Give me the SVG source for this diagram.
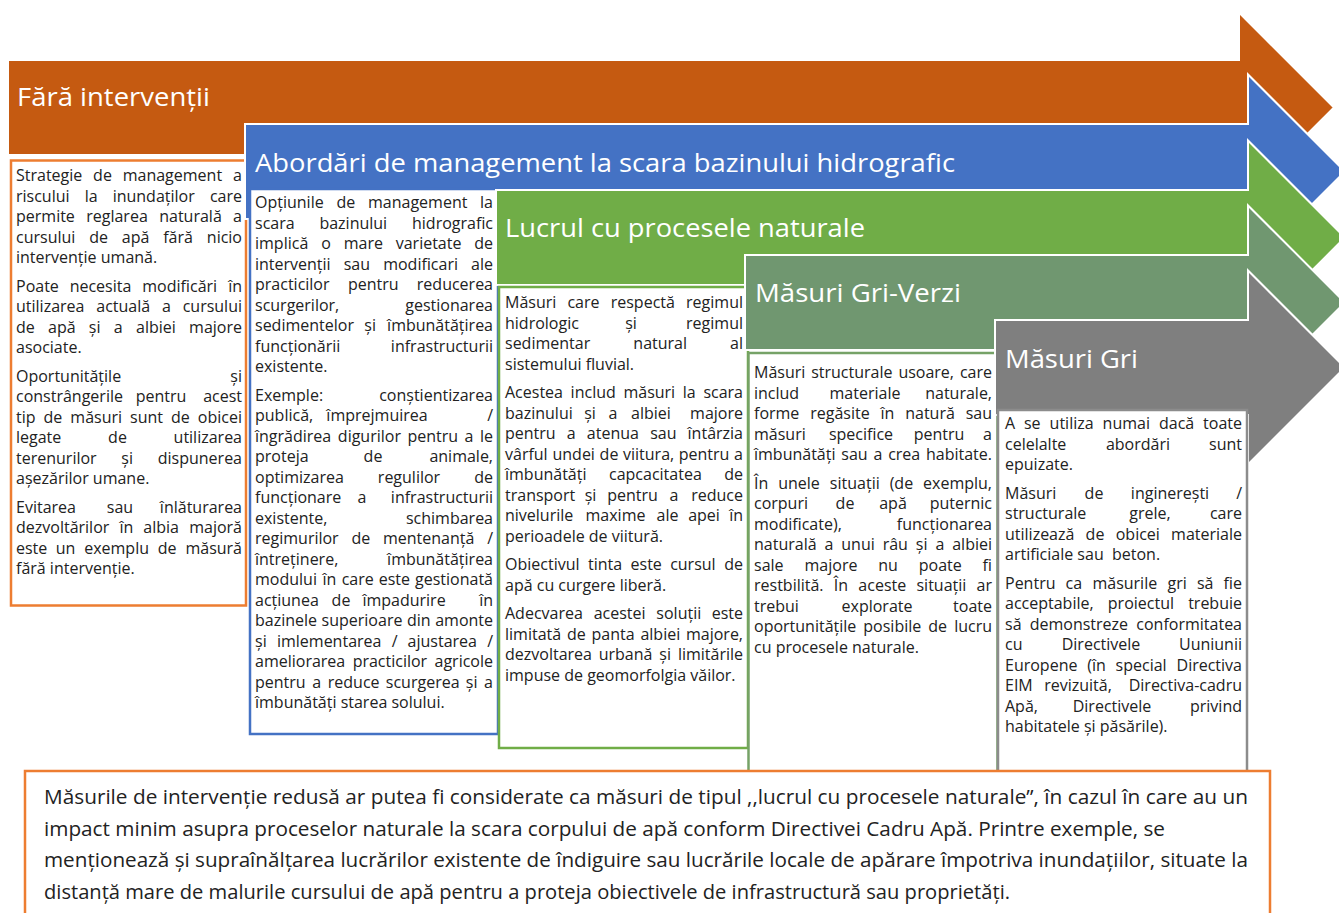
<svg xmlns="http://www.w3.org/2000/svg" width="1339" height="913" viewBox="0 0 1339 913">
<defs>
<style>
.arw{stroke:#ffffff;stroke-width:2;stroke-linejoin:miter}
.box{fill:#ffffff;stroke-width:2.5}
.ttl{font-family:"Open Sans","Noto Sans","Liberation Sans",sans-serif;font-size:26px;fill:#ffffff}
.t{font-family:"Open Sans","Noto Sans","Liberation Sans",sans-serif;font-size:16px;fill:#222222}
.bt{font-family:"Open Sans","Noto Sans","Liberation Sans",sans-serif;font-size:19.5px;fill:#222222}
.m{text-anchor:middle}
.e{text-anchor:end}
</style>
</defs>
<rect width="1339" height="913" fill="#ffffff"/>

<g id="node-fara-interventii">
<path class="arw" fill="#C55A11" d="M8,60 H1239 V12.5 L1334,107.5 L1239,202.5 V155 H8 Z"/>
<text class="ttl" x="17" y="106" textLength="193" lengthAdjust="spacingAndGlyphs">Fără intervenții</text>
<rect class="box" stroke="#ED7D31" x="11" y="160.5" width="235" height="445"/>
<text class="t" x="16" y="181">Strategie</text><text class="t m" x="102.5" y="181">de</text><text class="t m" x="172.4" y="181">management</text><text class="t e" x="242" y="181">a</text>
<text class="t" x="16" y="201.5">riscului</text><text class="t m" x="91.1" y="201.5">la</text><text class="t m" x="153.7" y="201.5">inundaților</text><text class="t e" x="242" y="201.5">care</text>
<text class="t" x="16" y="222">permite</text><text class="t m" x="117" y="222">reglarea</text><text class="t m" x="190.5" y="222">naturală</text><text class="t e" x="242" y="222">a</text>
<text class="t" x="16" y="242.5">cursului</text><text class="t m" x="98.6" y="242.5">de</text><text class="t m" x="135.6" y="242.5">apă</text><text class="t m" x="178.1" y="242.5">fără</text><text class="t e" x="242" y="242.5">nicio</text>
<text class="t" x="16" y="263">intervenție umană.</text>
<text class="t" x="16" y="291.5">Poate</text><text class="t m" x="100.5" y="291.5">necesita</text><text class="t m" x="179.7" y="291.5">modificări</text><text class="t e" x="242" y="291.5">în</text>
<text class="t" x="16" y="312">utilizarea</text><text class="t m" x="123.2" y="312">actuală</text><text class="t m" x="166.4" y="312">a</text><text class="t e" x="242" y="312">cursului</text>
<text class="t" x="16" y="332.5">de</text><text class="t m" x="61.8" y="332.5">apă</text><text class="t m" x="94.7" y="332.5">și</text><text class="t m" x="118.3" y="332.5">a</text><text class="t m" x="155.9" y="332.5">albiei</text><text class="t e" x="242" y="332.5">majore</text>
<text class="t" x="16" y="353">asociate.</text>
<text class="t" x="16" y="381.5">Oportunitățile</text><text class="t e" x="242" y="381.5">și</text>
<text class="t" x="16" y="402">constrângerile</text><text class="t m" x="161" y="402">pentru</text><text class="t e" x="242" y="402">acest</text>
<text class="t" x="16" y="422.5">tip</text><text class="t m" x="52.9" y="422.5">de</text><text class="t m" x="96.2" y="422.5">măsuri</text><text class="t m" x="146.6" y="422.5">sunt</text><text class="t m" x="180.4" y="422.5">de</text><text class="t e" x="242" y="422.5">obicei</text>
<text class="t" x="16" y="443">legate</text><text class="t m" x="117.5" y="443">de</text><text class="t e" x="242" y="443">utilizarea</text>
<text class="t" x="16" y="463.5">terenurilor</text><text class="t m" x="127.2" y="463.5">și</text><text class="t e" x="242" y="463.5">dispunerea</text>
<text class="t" x="16" y="484">așezărilor umane.</text>
<text class="t" x="16" y="512.5">Evitarea</text><text class="t m" x="120" y="512.5">sau</text><text class="t e" x="242" y="512.5">înlăturarea</text>
<text class="t" x="16" y="533">dezvoltărilor</text><text class="t m" x="126.4" y="533">în</text><text class="t m" x="161.2" y="533">albia</text><text class="t e" x="242" y="533">majoră</text>
<text class="t" x="16" y="553.5">este</text><text class="t m" x="65.6" y="553.5">un</text><text class="t m" x="116.6" y="553.5">exemplu</text><text class="t m" x="167.1" y="553.5">de</text><text class="t e" x="242" y="553.5">măsură</text>
<text class="t" x="16" y="574">fără intervenție.</text>
</g>

<g id="node-bazin-hidrografic">
<path class="arw" fill="#4472C4" d="M245,124 H1248 V74.5 L1345,171.5 L1248,268.5 V219 H245 Z"/>
<text class="ttl" x="255" y="172" textLength="700" lengthAdjust="spacingAndGlyphs">Abordări de management la scara bazinului hidrografic</text>
<rect class="box" stroke="#4472C4" x="250" y="189" width="248" height="545"/>
<text class="t" x="255" y="208">Opțiunile</text><text class="t m" x="345.8" y="208">de</text><text class="t m" x="417.7" y="208">management</text><text class="t e" x="493" y="208">la</text>
<text class="t" x="255" y="228.5">scara</text><text class="t m" x="353.3" y="228.5">bazinului</text><text class="t e" x="493" y="228.5">hidrografic</text>
<text class="t" x="255" y="249">implică</text><text class="t m" x="326" y="249">o</text><text class="t m" x="363.4" y="249">mare</text><text class="t m" x="428.6" y="249">varietate</text><text class="t e" x="493" y="249">de</text>
<text class="t" x="255" y="269.5">intervenții</text><text class="t m" x="356.8" y="269.5">sau</text><text class="t m" x="420.6" y="269.5">modificari</text><text class="t e" x="493" y="269.5">ale</text>
<text class="t" x="255" y="290">practicilor</text><text class="t m" x="373.3" y="290">pentru</text><text class="t e" x="493" y="290">reducerea</text>
<text class="t" x="255" y="310.5">scurgerilor,</text><text class="t e" x="493" y="310.5">gestionarea</text>
<text class="t" x="255" y="331">sedimentelor</text><text class="t m" x="370.1" y="331">și</text><text class="t e" x="493" y="331">îmbunătățirea</text>
<text class="t" x="255" y="351.5">funcționării</text><text class="t e" x="493" y="351.5">infrastructurii</text>
<text class="t" x="255" y="372">existente.</text>
<text class="t" x="255" y="400.5">Exemple:</text><text class="t e" x="493" y="400.5">conștientizarea</text>
<text class="t" x="255" y="421">publică,</text><text class="t m" x="377" y="421">împrejmuirea</text><text class="t e" x="493" y="421">/</text>
<text class="t" x="255" y="441.5">îngrădirea</text><text class="t m" x="369.4" y="441.5">digurilor</text><text class="t m" x="432.8" y="441.5">pentru</text><text class="t m" x="469" y="441.5">a</text><text class="t e" x="493" y="441.5">le</text>
<text class="t" x="255" y="462">proteja</text><text class="t m" x="373" y="462">de</text><text class="t e" x="493" y="462">animale,</text>
<text class="t" x="255" y="482.5">optimizarea</text><text class="t m" x="409" y="482.5">regulilor</text><text class="t e" x="493" y="482.5">de</text>
<text class="t" x="255" y="503">funcționare</text><text class="t m" x="362" y="503">a</text><text class="t e" x="493" y="503">infrastructurii</text>
<text class="t" x="255" y="523.5">existente,</text><text class="t e" x="493" y="523.5">schimbarea</text>
<text class="t" x="255" y="544">regimurilor</text><text class="t m" x="360.9" y="544">de</text><text class="t m" x="428.7" y="544">mentenanță</text><text class="t e" x="493" y="544">/</text>
<text class="t" x="255" y="564.5">întreținere,</text><text class="t e" x="493" y="564.5">îmbunătățirea</text>
<text class="t" x="255" y="585">modului</text><text class="t m" x="329.5" y="585">în</text><text class="t m" x="357.7" y="585">care</text><text class="t m" x="394.4" y="585">este</text><text class="t e" x="493" y="585">gestionată</text>
<text class="t" x="255" y="605.5">acțiunea</text><text class="t m" x="341" y="605.5">de</text><text class="t m" x="404" y="605.5">împadurire</text><text class="t e" x="493" y="605.5">în</text>
<text class="t" x="255" y="626">bazinele</text><text class="t m" x="362" y="626">superioare</text><text class="t m" x="418.8" y="626">din</text><text class="t e" x="493" y="626">amonte</text>
<text class="t" x="255" y="646.5">și</text><text class="t m" x="329.2" y="646.5">imlementarea</text><text class="t m" x="394.6" y="646.5">/</text><text class="t m" x="442.3" y="646.5">ajustarea</text><text class="t e" x="493" y="646.5">/</text>
<text class="t" x="255" y="667">ameliorarea</text><text class="t m" x="389.9" y="667">practicilor</text><text class="t e" x="493" y="667">agricole</text>
<text class="t" x="255" y="687.5">pentru</text><text class="t m" x="316.7" y="687.5">a</text><text class="t m" x="353.7" y="687.5">reduce</text><text class="t m" x="422.7" y="687.5">scurgerea</text><text class="t m" x="471.6" y="687.5">și</text><text class="t e" x="493" y="687.5">a</text>
<text class="t" x="255" y="708">îmbunătăți starea solului.</text>
</g>

<g id="node-procese-naturale">
<path class="arw" fill="#70AD47" d="M496,190 H1248 V140.5 L1345,237.5 L1248,334.5 V285 H496 Z"/>
<text class="ttl" x="505" y="237" textLength="360" lengthAdjust="spacingAndGlyphs">Lucrul cu procesele naturale</text>
<rect class="box" stroke="#70AD47" x="499" y="287" width="249" height="461"/>
<text class="t" x="505" y="308">Măsuri</text><text class="t m" x="583.5" y="308">care</text><text class="t m" x="642.8" y="308">respectă</text><text class="t e" x="743" y="308">regimul</text>
<text class="t" x="505" y="328.5">hidrologic</text><text class="t m" x="631" y="328.5">și</text><text class="t e" x="743" y="328.5">regimul</text>
<text class="t" x="505" y="349">sedimentar</text><text class="t m" x="660.2" y="349">natural</text><text class="t e" x="743" y="349">al</text>
<text class="t" x="505" y="369.5">sistemului fluvial.</text>
<text class="t" x="505" y="398">Acestea</text><text class="t m" x="593.2" y="398">includ</text><text class="t m" x="649.3" y="398">măsuri</text><text class="t m" x="689.3" y="398">la</text><text class="t e" x="743" y="398">scara</text>
<text class="t" x="505" y="418.5">bazinului</text><text class="t m" x="590" y="418.5">și</text><text class="t m" x="613" y="418.5">a</text><text class="t m" x="651" y="418.5">albiei</text><text class="t e" x="743" y="418.5">majore</text>
<text class="t" x="505" y="439">pentru</text><text class="t m" x="571.2" y="439">a</text><text class="t m" x="612.9" y="439">atenua</text><text class="t m" x="663.3" y="439">sau</text><text class="t e" x="743" y="439">întârzia</text>
<text class="t" x="505" y="459.5">vârful</text><text class="t m" x="573.7" y="459.5">undei</text><text class="t m" x="609" y="459.5">de</text><text class="t m" x="648.6" y="459.5">viitura,</text><text class="t m" x="704.1" y="459.5">pentru</text><text class="t e" x="743" y="459.5">a</text>
<text class="t" x="505" y="480">îmbunătăți</text><text class="t m" x="655.4" y="480">capcacitatea</text><text class="t e" x="743" y="480">de</text>
<text class="t" x="505" y="500.5">transport</text><text class="t m" x="590.5" y="500.5">și</text><text class="t m" x="632.5" y="500.5">pentru</text><text class="t m" x="674" y="500.5">a</text><text class="t e" x="743" y="500.5">reduce</text>
<text class="t" x="505" y="521">nivelurile</text><text class="t m" x="615.5" y="521">maxime</text><text class="t m" x="667.5" y="521">ale</text><text class="t m" x="704" y="521">apei</text><text class="t e" x="743" y="521">în</text>
<text class="t" x="505" y="541.5">perioadele de viitură.</text>
<text class="t" x="505" y="570">Obiectivul</text><text class="t m" x="605.1" y="570">tinta</text><text class="t m" x="646.2" y="570">este</text><text class="t m" x="692.9" y="570">cursul</text><text class="t e" x="743" y="570">de</text>
<text class="t" x="505" y="590.5">apă cu curgere liberă.</text>
<text class="t" x="505" y="619">Adecvarea</text><text class="t m" x="619.6" y="619">acestei</text><text class="t m" x="678.8" y="619">soluții</text><text class="t e" x="743" y="619">este</text>
<text class="t" x="505" y="639.5">limitată</text><text class="t m" x="576.3" y="639.5">de</text><text class="t m" x="613.1" y="639.5">panta</text><text class="t m" x="660.3" y="639.5">albiei</text><text class="t e" x="743" y="639.5">majore,</text>
<text class="t" x="505" y="660">dezvoltarea</text><text class="t m" x="625.6" y="660">urbană</text><text class="t m" x="665.2" y="660">și</text><text class="t e" x="743" y="660">limitările</text>
<text class="t" x="505" y="680.5">impuse de geomorfolgia văilor.</text>
</g>

<g id="node-gri-verzi">
<path class="arw" fill="#709770" d="M745,255 H1248 V205.5 L1345,302.5 L1248,399.5 V350 H745 Z"/>
<text class="ttl" x="755" y="302" textLength="206" lengthAdjust="spacingAndGlyphs">Măsuri Gri-Verzi</text>
<rect class="box" stroke="#76A267" x="748.5" y="353" width="249" height="440"/>
<text class="t" x="754" y="378">Măsuri</text><text class="t m" x="851.8" y="378">structurale</text><text class="t m" x="926.2" y="378">usoare,</text><text class="t e" x="992" y="378">care</text>
<text class="t" x="754" y="398.5">includ</text><text class="t m" x="865" y="398.5">materiale</text><text class="t e" x="992" y="398.5">naturale,</text>
<text class="t" x="754" y="419">forme</text><text class="t m" x="839.9" y="419">regăsite</text><text class="t m" x="887.4" y="419">în</text><text class="t m" x="930" y="419">natură</text><text class="t e" x="992" y="419">sau</text>
<text class="t" x="754" y="439.5">măsuri</text><text class="t m" x="861" y="439.5">specifice</text><text class="t m" x="939" y="439.5">pentru</text><text class="t e" x="992" y="439.5">a</text>
<text class="t" x="754" y="460">îmbunătăți</text><text class="t m" x="854.5" y="460">sau</text><text class="t m" x="877.9" y="460">a</text><text class="t m" x="904.2" y="460">crea</text><text class="t e" x="992" y="460">habitate.</text>
<text class="t" x="754" y="488.5">În</text><text class="t m" x="799" y="488.5">unele</text><text class="t m" x="854.8" y="488.5">situații</text><text class="t m" x="901.4" y="488.5">(de</text><text class="t e" x="992" y="488.5">exemplu,</text>
<text class="t" x="754" y="509">corpuri</text><text class="t m" x="845" y="509">de</text><text class="t m" x="893" y="509">apă</text><text class="t e" x="992" y="509">puternic</text>
<text class="t" x="754" y="529.5">modificate),</text><text class="t e" x="992" y="529.5">funcționarea</text>
<text class="t" x="754" y="550">naturală</text><text class="t m" x="829" y="550">a</text><text class="t m" x="858" y="550">unui</text><text class="t m" x="895.3" y="550">râu</text><text class="t m" x="921.7" y="550">și</text><text class="t m" x="939.9" y="550">a</text><text class="t e" x="992" y="550">albiei</text>
<text class="t" x="754" y="570.5">sale</text><text class="t m" x="831" y="570.5">majore</text><text class="t m" x="888.1" y="570.5">nu</text><text class="t m" x="940.3" y="570.5">poate</text><text class="t e" x="992" y="570.5">fi</text>
<text class="t" x="754" y="591">restbilită.</text><text class="t m" x="841" y="591">În</text><text class="t m" x="882.3" y="591">aceste</text><text class="t m" x="941.4" y="591">situații</text><text class="t e" x="992" y="591">ar</text>
<text class="t" x="754" y="611.5">trebui</text><text class="t m" x="877" y="611.5">explorate</text><text class="t e" x="992" y="611.5">toate</text>
<text class="t" x="754" y="632">oportunitățile</text><text class="t m" x="892.3" y="632">posibile</text><text class="t m" x="937.7" y="632">de</text><text class="t e" x="992" y="632">lucru</text>
<text class="t" x="754" y="652.5">cu procesele naturale.</text>
</g>

<g id="node-gri">
<path class="arw" fill="#7F7F7F" d="M995,320 H1248 V270.5 L1345,367.5 L1248,464.5 V415 H995 Z"/>
<text class="ttl" x="1005" y="368" textLength="133" lengthAdjust="spacingAndGlyphs">Măsuri Gri</text>
<rect class="box" stroke="#8C8C8C" x="998" y="410" width="249" height="383"/>
<text class="t" x="1005" y="429">A</text><text class="t m" x="1032.3" y="429">se</text><text class="t m" x="1071.6" y="429">utiliza</text><text class="t m" x="1126.3" y="429">numai</text><text class="t m" x="1176.6" y="429">dacă</text><text class="t e" x="1242" y="429">toate</text>
<text class="t" x="1005" y="449.5">celelalte</text><text class="t m" x="1138" y="449.5">abordări</text><text class="t e" x="1242" y="449.5">sunt</text>
<text class="t" x="1005" y="470">epuizate.</text>
<text class="t" x="1005" y="498.5">Măsuri</text><text class="t m" x="1094" y="498.5">de</text><text class="t m" x="1170" y="498.5">inginerești</text><text class="t e" x="1242" y="498.5">/</text>
<text class="t" x="1005" y="519">structurale</text><text class="t m" x="1150" y="519">grele,</text><text class="t e" x="1242" y="519">care</text>
<text class="t" x="1005" y="539.5">utilizează</text><text class="t m" x="1095" y="539.5">de</text><text class="t m" x="1137.8" y="539.5">obicei</text><text class="t e" x="1242" y="539.5">materiale</text>
<text class="t" x="1005" y="560" style="white-space:pre">artificiale sau  beton.</text>
<text class="t" x="1005" y="588.5">Pentru</text><text class="t m" x="1073.9" y="588.5">ca</text><text class="t m" x="1124.8" y="588.5">măsurile</text><text class="t m" x="1177.1" y="588.5">gri</text><text class="t m" x="1205.2" y="588.5">să</text><text class="t e" x="1242" y="588.5">fie</text>
<text class="t" x="1005" y="609">acceptabile,</text><text class="t m" x="1140.9" y="609">proiectul</text><text class="t e" x="1242" y="609">trebuie</text>
<text class="t" x="1005" y="629.5">să</text><text class="t m" x="1078.9" y="629.5">demonstreze</text><text class="t e" x="1242" y="629.5">conformitatea</text>
<text class="t" x="1005" y="650">cu</text><text class="t m" x="1101" y="650">Directivele</text><text class="t e" x="1242" y="650">Uuniunii</text>
<text class="t" x="1005" y="670.5">Europene</text><text class="t m" x="1096.5" y="670.5">(în</text><text class="t m" x="1141.1" y="670.5">special</text><text class="t e" x="1242" y="670.5">Directiva</text>
<text class="t" x="1005" y="691">EIM</text><text class="t m" x="1078" y="691">revizuită,</text><text class="t e" x="1242" y="691">Directiva-cadru</text>
<text class="t" x="1005" y="711.5">Apă,</text><text class="t m" x="1112" y="711.5">Directivele</text><text class="t e" x="1242" y="711.5">privind</text>
<text class="t" x="1005" y="732">habitatele și păsările).</text>
</g>

<g id="node-nota-interventie-redusa">
<rect class="box" stroke="#ED7D31" stroke-width="2" x="25" y="771" width="1245" height="170"/>
<text class="bt" x="44" y="804" textLength="1204" lengthAdjust="spacingAndGlyphs">Măsurile de intervenție redusă ar putea fi considerate ca măsuri de tipul ,,lucrul cu procesele naturale”, în cazul în care au un</text>
<text class="bt" x="44" y="835.5" textLength="1121" lengthAdjust="spacingAndGlyphs">impact minim asupra proceselor naturale la scara corpului de apă conform Directivei Cadru Apă. Printre exemple, se</text>
<text class="bt" x="44" y="867" textLength="1204" lengthAdjust="spacingAndGlyphs">menționează și supraînălțarea lucrărilor existente de îndiguire sau lucrările locale de apărare împotriva inundațiilor, situate la</text>
<text class="bt" x="44" y="898.5" textLength="966" lengthAdjust="spacingAndGlyphs">distanță mare de malurile cursului de apă pentru a proteja obiectivele de infrastructură sau proprietăți.</text>
</g>

<g id="connectors"></g>
</svg>
